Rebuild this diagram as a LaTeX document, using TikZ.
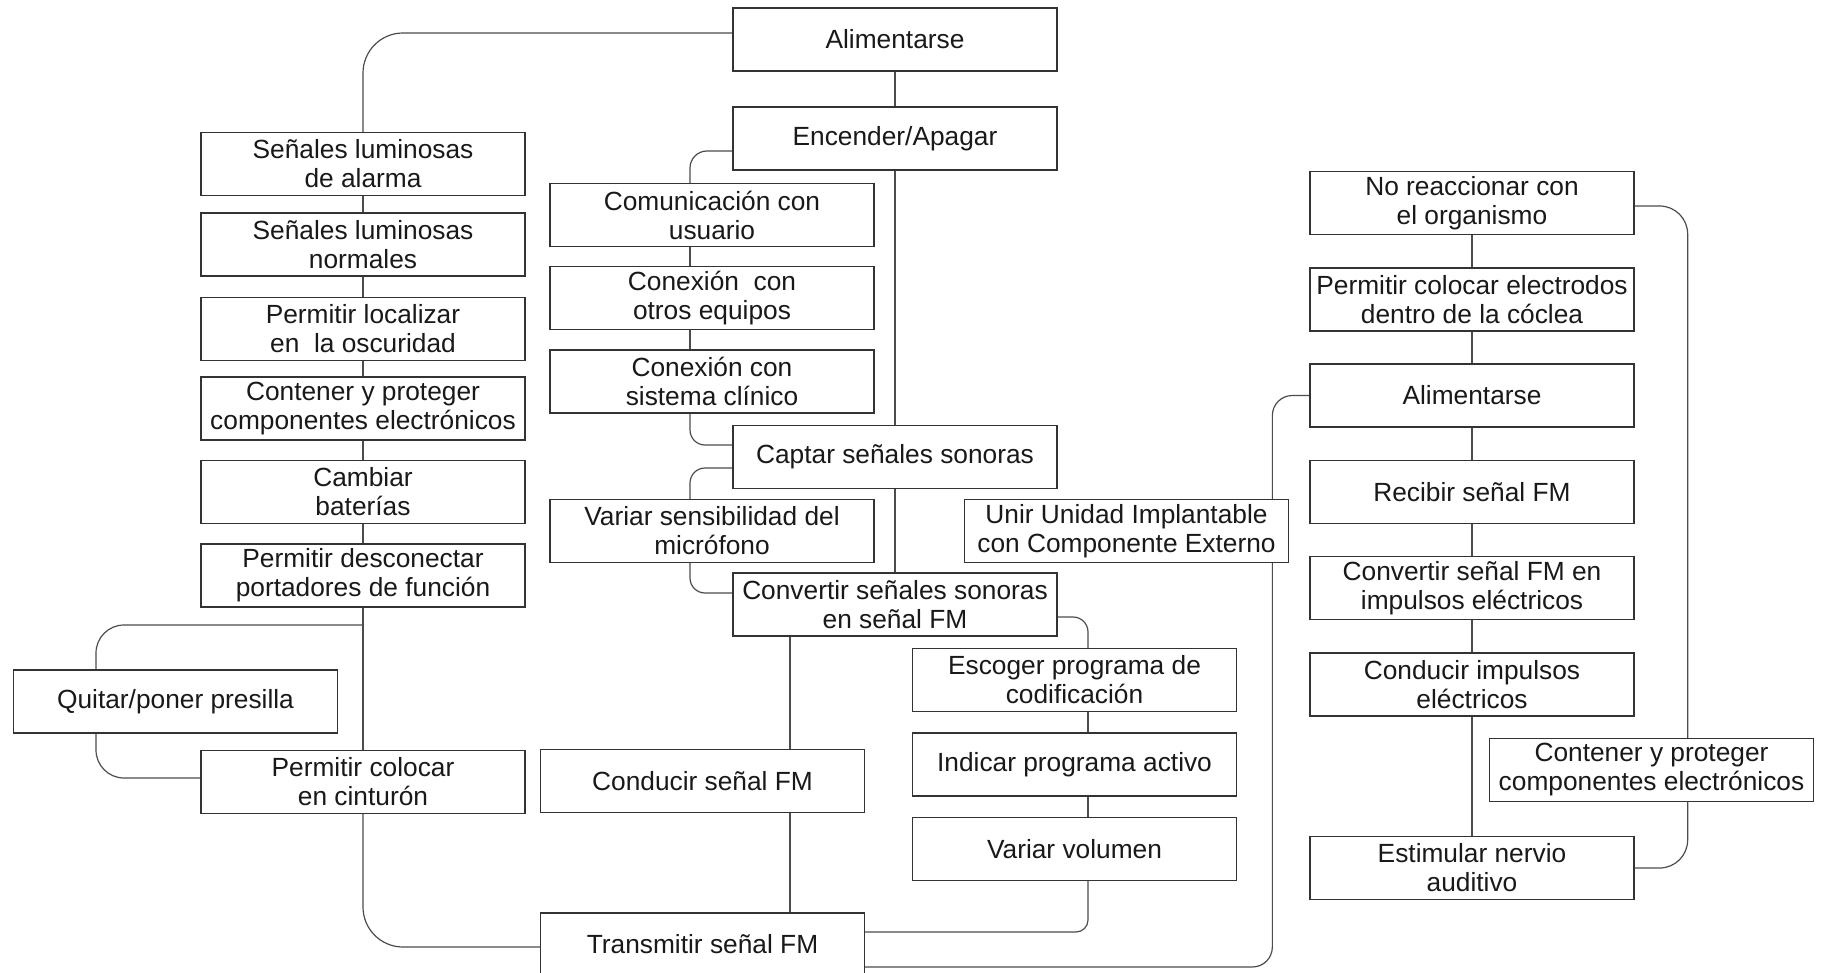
\documentclass[tikz,border=0pt]{standalone}
\usepackage{fontspec}
\setmainfont{Liberation Sans}
\usetikzlibrary{backgrounds}

\begin{document}
\begin{tikzpicture}[
                        x=1pt, y=-1pt,
                        bloque/.style={rectangle, draw=black!80, line width=1.3pt, fill=white,
                                       minimum width=324pt, minimum height=63pt, inner sep=0pt,
                                       align=center, text=black!90,
                                       font=\fontsize{26.3}{29}\selectfont},
                        linea/.style={draw=black!70, line width=1.2pt}
                    ]
                    \useasboundingbox (0,0) rectangle (1830,973);

                    % Blocks
                    \node [bloque] (alimA) at (895,39.5) {Alimentarse};
                    \node [bloque] (encender) at (895,138.5) {Encender/Apagar};
                    \node [bloque] (captar) at (895,457) {Captar señales sonoras};
                    \node [bloque] (convFM) at (895,604.5) {Convertir señales sonoras\\en señal FM};

                    \node [bloque] (senAlarma) at (363,164) {Señales luminosas\\de alarma};
                    \node [bloque] (senNormal) at (363,244.5) {Señales luminosas\\normales};
                    \node [bloque] (localizar) at (363,329) {Permitir localizar\\en\ \ la oscuridad};
                    \node [bloque] (contener) at (363,408.5) {Contener y proteger\\componentes electrónicos};
                    \node [bloque] (baterias) at (363,492) {Cambiar\\baterías};
                    \node [bloque] (desconectar) at (363,575.5) {Permitir desconectar\\portadores de función};
                    \node [bloque] (presilla) at (175.5,701.5) {Quitar/poner presilla};
                    \node [bloque] (cinturon) at (363,782) {Permitir colocar\\en cinturón};

                    \node [bloque] (comUsuario) at (712,215) {Comunicación con\\usuario};
                    \node [bloque] (conEquipos) at (712,298) {Conexión\ \ con\\otros equipos};
                    \node [bloque] (conClinico) at (712,381.5) {Conexión con\\sistema clínico};
                    \node [bloque] (sensMicro) at (712,531) {Variar sensibilidad del\\micrófono};
                    \node [bloque] (conducirFM) at (702.5,781) {Conducir señal FM};
                    \node [bloque] (transmitir) at (702.5,944.5) {Transmitir señal FM};

                    \node [bloque] (escoger) at (1074.5,680) {Escoger programa de\\codificación};
                    \node [bloque] (indicar) at (1074.5,764.5) {Indicar programa activo};
                    \node [bloque] (volumen) at (1074.5,849) {Variar volumen};
                    \node [bloque] (unir) at (1126.5,531) {Unir Unidad Implantable\\con Componente Externo};

                    \node [bloque] (noReacc) at (1472,203) {No reaccionar con\\el organismo};
                    \node [bloque] (electrodos) at (1472,299.5) {Permitir colocar electrodos\\dentro de la cóclea};
                    \node [bloque] (alimB) at (1472,395.5) {Alimentarse};
                    \node [bloque] (recibir) at (1472,492) {Recibir señal FM};
                    \node [bloque] (convImp) at (1472,588) {Convertir señal FM en\\impulsos eléctricos};
                    \node [bloque] (conducirImp) at (1472,684.5) {Conducir impulsos\\eléctricos};
                    \node [bloque] (contenerB) at (1651.5,770) {Contener y proteger\\componentes electrónicos};
                    \node [bloque] (estimular) at (1472,868) {Estimular nervio\\auditivo};

                    \coordinate (ramaQ) at (363,625);

                    % Connections
                    \begin{scope}[on background layer]
                    \draw [linea, rounded corners=40pt] ([yshift=6.5pt]alimA.west) -| (senAlarma.north);
                    \foreach \a/\b in {senAlarma/senNormal, senNormal/localizar, localizar/contener,
                                       contener/baterias, baterias/desconectar, desconectar/cinturon}
                        \draw [linea] (\a.south) -- (\b.north);
                    \draw [linea, rounded corners=28pt] (ramaQ) -| ([xshift=-79.5pt]presilla.north);
                    \draw [linea, rounded corners=28pt] ([xshift=-79.5pt]presilla.south) |- ([yshift=4pt]cinturon.west);
                    \draw [linea, rounded corners=40pt] (cinturon.south) |- ([yshift=-2.5pt]transmitir.west);

                    \draw [linea] (alimA.south) -- (encender.north);
                    \draw [linea] (encender.south) -- (captar.north);
                    \draw [linea] (captar.south) -- (convFM.north);
                    \draw [linea, rounded corners=17pt] ([yshift=-12.5pt]encender.west) -| ([xshift=-22pt]comUsuario.north);
                    \draw [linea] ([xshift=-22pt]comUsuario.south) -- ([xshift=-22pt]conEquipos.north);
                    \draw [linea] ([xshift=-22pt]conEquipos.south) -- ([xshift=-22pt]conClinico.north);
                    \draw [linea, rounded corners=15pt] ([xshift=-22pt]conClinico.south) |- ([yshift=12pt]captar.west);
                    \draw [linea, rounded corners=15pt] ([yshift=-11pt]captar.west) -| ([xshift=-22pt]sensMicro.north);
                    \draw [linea, rounded corners=15pt] ([xshift=-22pt]sensMicro.south) |- ([yshift=11.5pt]convFM.west);
                    \draw [linea] ([xshift=-105pt]convFM.south) -- ([xshift=87.5pt]conducirFM.north);
                    \draw [linea] ([xshift=87.5pt]conducirFM.south) -- ([xshift=87.5pt]transmitir.north);

                    \draw [linea, rounded corners=15pt] ([yshift=-12.5pt]convFM.east) -| ([xshift=13.5pt]escoger.north);
                    \draw [linea] ([xshift=13.5pt]escoger.south) -- ([xshift=13.5pt]indicar.north);
                    \draw [linea] ([xshift=13.5pt]indicar.south) -- ([xshift=13.5pt]volumen.north);
                    \draw [linea, rounded corners=12pt] ([xshift=13.5pt]volumen.south) |- ([yshift=12.5pt]transmitir.east);
                    \draw [linea, rounded corners=20pt] ([yshift=-22.5pt]transmitir.east) -| ([xshift=-37pt]alimB.west) -- (alimB.west);

                    \foreach \a/\b in {noReacc/electrodos, electrodos/alimB, alimB/recibir,
                                       recibir/convImp, convImp/conducirImp, conducirImp/estimular}
                        \draw [linea] (\a.south) -- (\b.north);
                    \draw [linea, rounded corners=28pt] ([yshift=-3pt]noReacc.east) -| ([xshift=53pt]estimular.east) -- (estimular.east);
                    \end{scope}
                \end{tikzpicture}
\end{document}
